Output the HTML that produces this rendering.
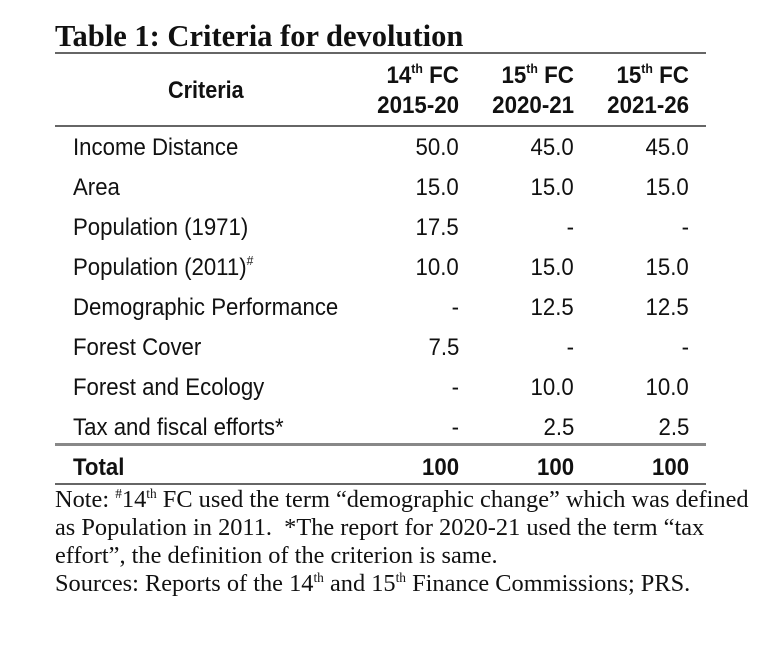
<!DOCTYPE html>
<html><head><style>
body{margin:0;width:778px;height:655px;background:#fff;position:relative;overflow:hidden;font-family:"Liberation Sans",sans-serif;color:#111}
.a{position:absolute;white-space:nowrap}
.t{font-family:"Liberation Serif",serif;font-weight:bold;font-size:30.5px;left:55px;top:19px}
.r{position:absolute;left:55px;width:651px;background:#666}
.c{font-size:24px;transform:scaleX(0.925);transform-origin:left center;left:73px}
.n{font-size:24px;transform:scaleX(0.925);transform-origin:right center;text-align:right}
.h{font-weight:bold;font-size:24px;transform:scaleX(0.93);transform-origin:right center;text-align:right}
.note{font-family:"Liberation Serif",serif;font-size:24px;left:55px;transform:scaleX(1.015);transform-origin:left center}
sup{font-size:55%;vertical-align:top;position:relative;top:-1px}
</style></head><body>
<div class="a t">Table 1: Criteria for devolution</div>
<div class="r" style="top:52px;height:2px"></div>
<div class="a" style="left:168px;top:77px;font-size:24px;font-weight:bold;transform:scaleX(0.9);transform-origin:left center">Criteria</div>
<div class="a h" style="right:319px;top:62px">14<sup>th</sup> FC</div>
<div class="a h" style="right:319px;top:92px">2015-20</div>
<div class="a h" style="right:204px;top:62px">15<sup>th</sup> FC</div>
<div class="a h" style="right:204px;top:92px">2020-21</div>
<div class="a h" style="right:89px;top:62px">15<sup>th</sup> FC</div>
<div class="a h" style="right:89px;top:92px">2021-26</div>
<div class="r" style="top:125px;height:2px"></div>

<div class="a c" style="top:134px">Income Distance</div><div class="a n" style="right:319px;top:134px">50.0</div><div class="a n" style="right:204px;top:134px">45.0</div><div class="a n" style="right:89px;top:134px">45.0</div>
<div class="a c" style="top:174px">Area</div><div class="a n" style="right:319px;top:174px">15.0</div><div class="a n" style="right:204px;top:174px">15.0</div><div class="a n" style="right:89px;top:174px">15.0</div>
<div class="a c" style="top:214px">Population (1971)</div><div class="a n" style="right:319px;top:214px">17.5</div><div class="a n" style="right:204px;top:214px">-</div><div class="a n" style="right:89px;top:214px">-</div>
<div class="a c" style="top:254px">Population (2011)<sup>#</sup></div><div class="a n" style="right:319px;top:254px">10.0</div><div class="a n" style="right:204px;top:254px">15.0</div><div class="a n" style="right:89px;top:254px">15.0</div>
<div class="a c" style="top:294px">Demographic Performance</div><div class="a n" style="right:319px;top:294px">-</div><div class="a n" style="right:204px;top:294px">12.5</div><div class="a n" style="right:89px;top:294px">12.5</div>
<div class="a c" style="top:334px">Forest Cover</div><div class="a n" style="right:319px;top:334px">7.5</div><div class="a n" style="right:204px;top:334px">-</div><div class="a n" style="right:89px;top:334px">-</div>
<div class="a c" style="top:374px">Forest and Ecology</div><div class="a n" style="right:319px;top:374px">-</div><div class="a n" style="right:204px;top:374px">10.0</div><div class="a n" style="right:89px;top:374px">10.0</div>
<div class="a c" style="top:414px">Tax and fiscal efforts*</div><div class="a n" style="right:319px;top:414px">-</div><div class="a n" style="right:204px;top:414px">2.5</div><div class="a n" style="right:89px;top:414px">2.5</div>
<div class="r" style="top:443px;height:3px;background:#888"></div>
<div class="a c" style="top:454px;font-weight:bold">Total</div><div class="a n" style="right:319px;top:454px;font-weight:bold">100</div><div class="a n" style="right:204px;top:454px;font-weight:bold">100</div><div class="a n" style="right:89px;top:454px;font-weight:bold">100</div>
<div class="r" style="top:483px;height:2px"></div>

<div class="a note" style="top:487px">Note: <sup>#</sup>14<sup>th</sup> FC used the term “demographic change” which was defined</div>
<div class="a note" style="top:515px">as Population in 2011.&nbsp; *The report for 2020-21 used the term “tax</div>
<div class="a note" style="top:543px">effort”, the definition of the criterion is same.</div>
<div class="a note" style="top:571px">Sources: Reports of the 14<sup>th</sup> and 15<sup>th</sup> Finance Commissions; PRS.</div>
</body></html>
